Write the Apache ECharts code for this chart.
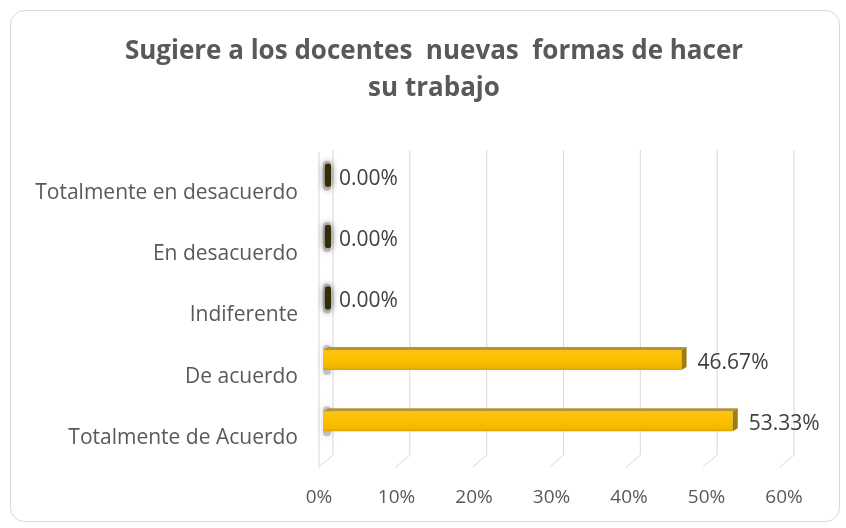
<!DOCTYPE html>
<html>
<head>
<meta charset="utf-8">
<script src="https://cdn.jsdelivr.net/npm/echarts@6/dist/echarts.min.js"></script>
<style>
  html, body { margin: 0; padding: 0; background: #fff; }
  #chart { width: 846px; height: 528px; }
</style>
</head>
<body>
<div id="chart"></div>
<script>
// Survey answers, listed top to bottom
const categories = [
  'Totalmente en desacuerdo',
  'En desacuerdo',
  'Indiferente',
  'De acuerdo',
  'Totalmente de Acuerdo'
];
// Share of answers, in percent
const values = [0, 0, 0, 46.67, 53.33];
// Value axis ticks, in percent
const ticks = [0, 10, 20, 30, 40, 50, 60];
const titleLines = ['Sugiere a los docentes  nuevas  formas de hacer', 'su trabajo'];

const FONT = '"Open Sans", "Noto Sans", sans-serif';
const GRID_COLOR = '#d9d9d9';

const chart = echarts.init(document.getElementById('chart'), null, { renderer: 'canvas' });

// Back-wall gridlines with the slanted floor segment, plus the side wall at 0%
function renderGridLine(params, api) {
  const v = api.value(0);
  const cs = params.coordSys;
  const x = api.coord([v, 0])[0];
  const top = cs.y + 5, floor = cs.y + cs.height + 3, front = cs.y + cs.height + 15;
  const children = [{
    type: 'polyline',
    shape: { points: [[x + 10, top], [x + 10, floor], [x - 4, front]] },
    style: { stroke: GRID_COLOR, lineWidth: 1, fill: null }
  }];
  if (v === 0) {
    children.push({
      type: 'line',
      shape: { x1: x - 4, y1: top + 2, x2: x - 4, y2: front },
      style: { stroke: GRID_COLOR, lineWidth: 1 }
    });
  }
  return { type: 'group', children };
}

// Bars drawn as boxes: front face, top face and end face
function renderBar(params, api) {
  const i = api.value(0);
  const v = api.value(1);
  const start = api.coord([0, i]);
  const end = api.coord([v, i]);
  const x0 = start[0], x1 = end[0], c = start[1];
  const h = 20, dx = 5, dy = 3;
  const yt = c - h / 2, yb = c + h / 2;
  const children = [];
  // soft shadow cast on the side wall
  children.push({
    type: 'rect',
    shape: { x: x0, y: c - 15, width: 8, height: 30, r: 4 },
    style: { fill: 'rgba(90,90,90,0.3)', shadowBlur: 7, shadowColor: 'rgba(0,0,0,0.45)' }
  });
  if (v > 0) {
    children.push({
      type: 'rect',
      shape: { x: x0, y: yt, width: x1 - x0, height: h },
      style: {
        fill: new echarts.graphic.LinearGradient(0, 0, 0, 1, [
          { offset: 0, color: '#f6c41a' },
          { offset: 0.35, color: '#ffc000' },
          { offset: 0.85, color: '#f5b800' },
          { offset: 1, color: '#d9a300' }
        ])
      }
    });
    children.push({
      type: 'polygon',
      shape: { points: [[x0, yt], [x0 + dx, yt - dy], [x1 + dx, yt - dy], [x1, yt]] },
      style: { fill: '#b8923a' }
    });
    children.push({
      type: 'polygon',
      shape: { points: [[x1, yt], [x1 + dx, yt - dy], [x1 + dx, yb - dy], [x1, yb]] },
      style: { fill: '#a07c10' }
    });
  } else {
    children.push({
      type: 'rect',
      shape: { x: x0 + 2, y: c - 12, width: 6, height: 23, r: 2 },
      style: { fill: '#332d06', shadowBlur: 7, shadowColor: 'rgba(0,0,0,0.6)' }
    });
  }
  children.push({
    type: 'text',
    style: {
      text: v.toFixed(2) + '%',
      x: x1 + dx + 11,
      y: c + 3,
      verticalAlign: 'middle',
      align: 'left',
      font: '21px ' + FONT,
      fill: '#404040'
    }
  });
  return { type: 'group', children };
}

const hiddenValueAxis = {
  type: 'value', min: 0, max: ticks[ticks.length - 1],
  axisLine: { show: false }, axisTick: { show: false },
  axisLabel: { show: false }, splitLine: { show: false }
};

chart.setOption({
  animation: false,
  backgroundColor: '#fff',
  graphic: [
    {
      type: 'rect', z: -10,
      shape: { x: 10.5, y: 10.5, width: 829, height: 511, r: 14 },
      style: { fill: '#fff', stroke: '#d9d9d9', lineWidth: 1 }
    },
    {
      type: 'text',
      style: {
        text: titleLines.join('\n'),
        x: 434, y: 33,
        align: 'center',
        verticalAlign: 'top',
        lineHeight: 37,
        font: 'bold 26px ' + FONT,
        fill: '#595959'
      }
    }
  ],
  grid: [
    // plotting area for the bars
    { left: 323, top: 145, width: 461, height: 307 },
    // front edge of the floor, carries the percent labels
    { left: 319, top: 145, width: 465, height: 322 },
    // category labels, set lower along the floor perspective
    { left: 323, top: 162, width: 461, height: 307 }
  ],
  xAxis: [
    Object.assign({ gridIndex: 0 }, hiddenValueAxis),
    {
      gridIndex: 1, type: 'value', min: 0, max: ticks[ticks.length - 1], interval: 10,
      axisLine: { show: false }, axisTick: { show: false }, splitLine: { show: false },
      axisLabel: {
        formatter: '{value}%', margin: 21,
        fontFamily: FONT, fontSize: 19, color: '#595959'
      }
    },
    Object.assign({ gridIndex: 2 }, hiddenValueAxis)
  ],
  yAxis: [
    {
      gridIndex: 0, type: 'category', data: categories, inverse: true,
      axisLine: { show: false }, axisTick: { show: false }, splitLine: { show: false },
      axisLabel: { show: false }
    },
    { gridIndex: 1, type: 'value', show: false },
    {
      gridIndex: 2, type: 'category', data: categories, inverse: true,
      axisLine: { show: false }, axisTick: { show: false }, splitLine: { show: false },
      axisLabel: {
        margin: 25,
        fontFamily: FONT, fontSize: 21, color: '#595959'
      }
    }
  ],
  series: [
    {
      type: 'custom', xAxisIndex: 0, yAxisIndex: 0, z: 1,
      renderItem: renderGridLine,
      data: ticks.map(t => [t]),
      encode: { x: 0 },
      silent: true
    },
    {
      type: 'custom', xAxisIndex: 0, yAxisIndex: 0, z: 2,
      renderItem: renderBar,
      data: values.map((v, i) => [i, v]),
      encode: { y: 0, x: 1 },
      silent: true
    }
  ]
});
</script>
</body>
</html>
